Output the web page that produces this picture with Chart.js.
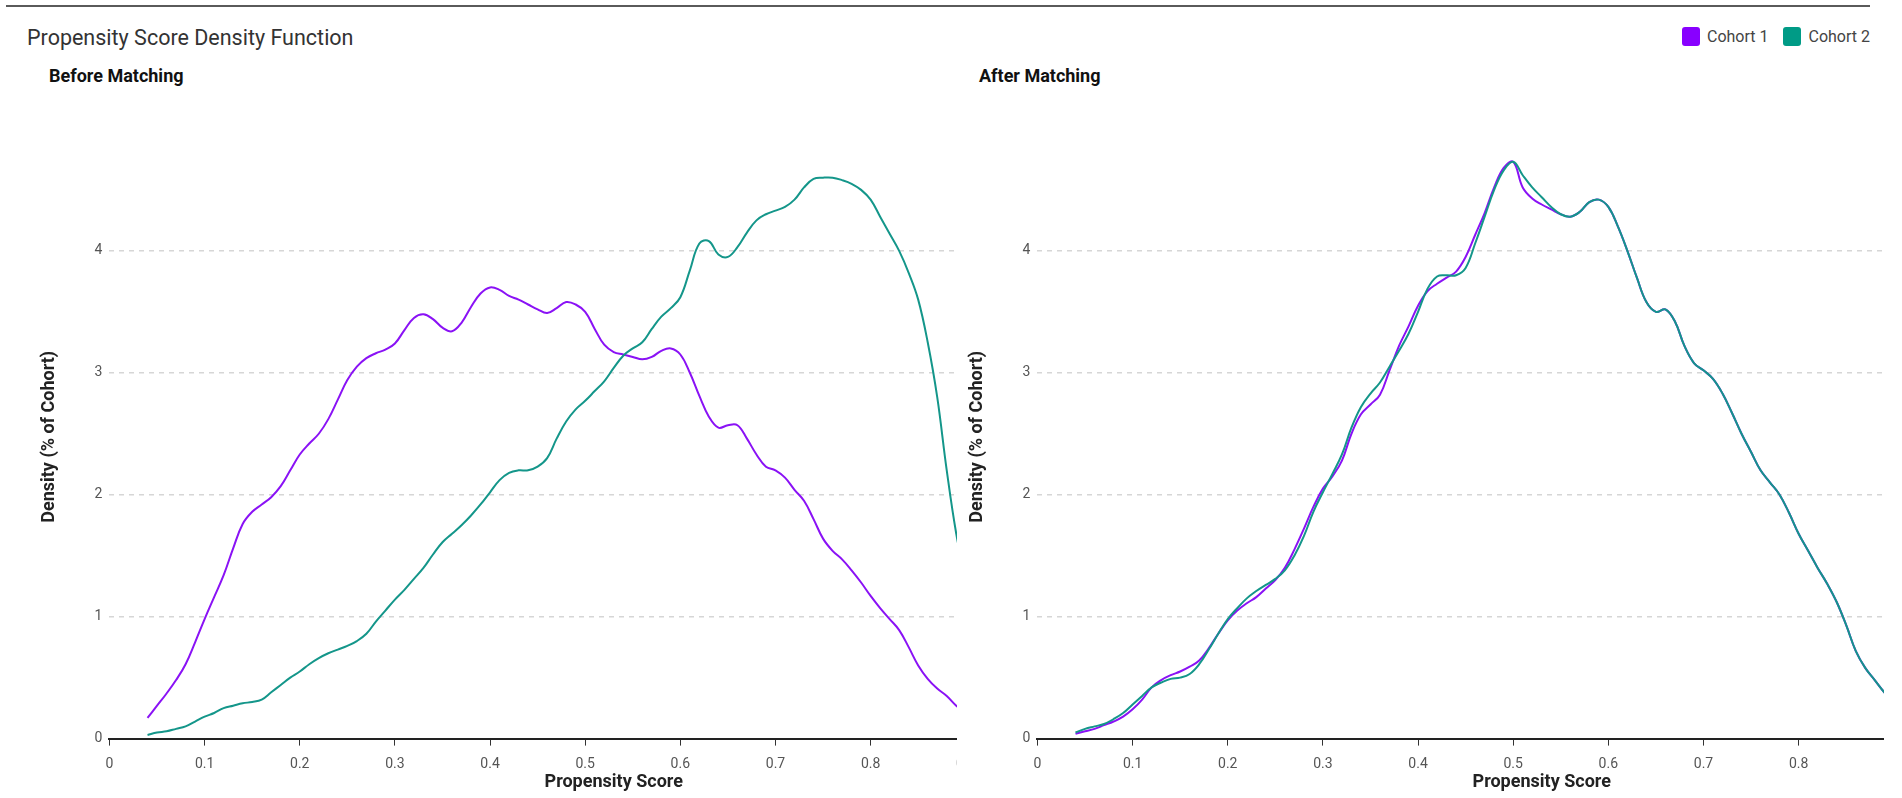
<!DOCTYPE html>
<html>
<head>
<meta charset="utf-8">
<script src="https://cdn.jsdelivr.net/npm/chart.js@4.4.1/dist/chart.umd.min.js"></script>
<style>
  body { margin: 0; background: #fff; font-family: Roboto, "Noto Sans", sans-serif; }
  #page { position: relative; width: 1902px; height: 798px; overflow: hidden; }
  .topline { position: absolute; left: 6px; top: 5px; width: 1864px; height: 2px; background: #5a5a5a; }
  .title { position: absolute; left: 27px; top: 25px; font-size: 21.5px; color: #333; }
  .sub { position: absolute; top: 65px; font-size: 18px; font-weight: bold; color: #111; }
  .legend { position: absolute; top: 27px; left: 1682px; display: flex; align-items: center; font-size: 16px; color: #444; }
  .legend span.box { display: inline-block; width: 18px; height: 19px; border-radius: 3px; margin-right: 7px; }
  .legend span.lbl { margin-right: 15px; }
  .panel { position: absolute; top: 0; height: 798px; overflow: hidden; }
  .panel canvas { position: absolute; top: 0; }
</style>
</head>
<body>
<div id="page">
  <div class="topline"></div>
  <div class="title">Propensity Score Density Function</div>
  <div class="sub" style="left:49px">Before Matching</div>
  <div class="sub" style="left:979px">After Matching</div>
  <div class="legend">
    <span class="box" style="background:#8800ff"></span><span class="lbl">Cohort 1</span>
    <span class="box" style="background:#009b86"></span><span class="lbl">Cohort 2</span>
  </div>
  <div class="panel" style="left:0; width:957px;"><canvas id="before" width="1128" height="798" style="left:0"></canvas></div>
  <div class="panel" style="left:962px; width:922px;"><canvas id="after" width="1128" height="798" style="left:-34px"></canvas></div>
</div>
<script>
// Propensity score grid (0.04 .. 0.90)
const scores = [0.04, 0.05, 0.06, 0.07, 0.08, 0.09, 0.10, 0.11, 0.12, 0.13, 0.14, 0.15, 0.16, 0.17, 0.18, 0.19,
  0.20, 0.21, 0.22, 0.23, 0.24, 0.25, 0.26, 0.27, 0.28, 0.29, 0.30, 0.31, 0.32, 0.33, 0.34, 0.35, 0.36, 0.37, 0.38, 0.39,
  0.40, 0.41, 0.42, 0.43, 0.44, 0.45, 0.46, 0.47, 0.48, 0.49, 0.50, 0.51, 0.52, 0.53, 0.54, 0.55, 0.56, 0.57, 0.58, 0.59,
  0.60, 0.61, 0.62, 0.63, 0.64, 0.65, 0.66, 0.67, 0.68, 0.69, 0.70, 0.71, 0.72, 0.73, 0.74, 0.75, 0.76, 0.77, 0.78, 0.79,
  0.80, 0.81, 0.82, 0.83, 0.84, 0.85, 0.86, 0.87, 0.88, 0.89, 0.90];

// Before matching
const beforeCohort1 = [0.17, 0.27, 0.37, 0.48, 0.61, 0.79, 0.98, 1.16, 1.34, 1.56, 1.76, 1.86, 1.92, 1.98, 2.07, 2.20,
  2.33, 2.42, 2.50, 2.62, 2.78, 2.94, 3.05, 3.12, 3.16, 3.19, 3.24, 3.35, 3.45, 3.48, 3.44, 3.37, 3.34, 3.41, 3.54, 3.65,
  3.70, 3.68, 3.63, 3.60, 3.56, 3.52, 3.49, 3.53, 3.58, 3.56, 3.50, 3.36, 3.23, 3.17, 3.15, 3.13, 3.11, 3.13, 3.18, 3.20,
  3.15, 3.00, 2.81, 2.64, 2.55, 2.57, 2.57, 2.46, 2.33, 2.23, 2.20, 2.14, 2.04, 1.95, 1.80, 1.64, 1.54, 1.47, 1.38, 1.28,
  1.17, 1.07, 0.98, 0.89, 0.75, 0.60, 0.49, 0.41, 0.35, 0.27, 0.21];
const beforeCohort2 = [0.03, 0.05, 0.06, 0.08, 0.10, 0.14, 0.18, 0.21, 0.25, 0.27, 0.29, 0.30, 0.32, 0.38, 0.44, 0.50,
  0.55, 0.61, 0.66, 0.70, 0.73, 0.76, 0.80, 0.86, 0.96, 1.05, 1.14, 1.22, 1.31, 1.40, 1.51, 1.61, 1.68, 1.75, 1.83, 1.92,
  2.02, 2.12, 2.18, 2.20, 2.20, 2.23, 2.30, 2.46, 2.60, 2.70, 2.77, 2.85, 2.93, 3.04, 3.14, 3.20, 3.25, 3.36, 3.46, 3.53,
  3.62, 3.84, 4.06, 4.08, 3.97, 3.95, 4.03, 4.15, 4.25, 4.30, 4.33, 4.36, 4.42, 4.52, 4.59, 4.60, 4.60, 4.58, 4.55, 4.50,
  4.42, 4.28, 4.14, 4.00, 3.82, 3.60, 3.25, 2.80, 2.20, 1.68, 1.30];

// After matching
const afterCohort1 = [0.04, 0.06, 0.08, 0.11, 0.14, 0.18, 0.24, 0.32, 0.42, 0.48, 0.52, 0.55, 0.59, 0.64, 0.74, 0.86,
  0.97, 1.05, 1.11, 1.16, 1.23, 1.30, 1.40, 1.55, 1.72, 1.90, 2.05, 2.15, 2.28, 2.50, 2.66, 2.74, 2.82, 3.02, 3.22, 3.38,
  3.55, 3.67, 3.73, 3.78, 3.83, 3.95, 4.13, 4.31, 4.52, 4.68, 4.73, 4.52, 4.43, 4.38, 4.34, 4.30, 4.28, 4.32, 4.40, 4.42,
  4.36, 4.20, 4.00, 3.78, 3.58, 3.50, 3.52, 3.42, 3.22, 3.08, 3.02, 2.95, 2.83, 2.67, 2.50, 2.35, 2.20, 2.10, 2.00, 1.85,
  1.68, 1.54, 1.40, 1.27, 1.12, 0.93, 0.72, 0.58, 0.48, 0.38, 0.30];
const afterCohort2 = [0.05, 0.08, 0.10, 0.12, 0.16, 0.21, 0.28, 0.35, 0.42, 0.46, 0.49, 0.50, 0.53, 0.61, 0.73, 0.86,
  0.98, 1.07, 1.15, 1.21, 1.26, 1.31, 1.38, 1.50, 1.66, 1.86, 2.02, 2.17, 2.33, 2.55, 2.72, 2.83, 2.92, 3.05, 3.18, 3.32,
  3.50, 3.69, 3.79, 3.80, 3.80, 3.86, 4.06, 4.28, 4.50, 4.66, 4.73, 4.62, 4.52, 4.44, 4.36, 4.30, 4.28, 4.32, 4.40, 4.42,
  4.36, 4.20, 4.00, 3.78, 3.58, 3.50, 3.52, 3.42, 3.22, 3.08, 3.02, 2.95, 2.83, 2.67, 2.50, 2.35, 2.20, 2.10, 2.00, 1.85,
  1.68, 1.54, 1.40, 1.27, 1.12, 0.93, 0.72, 0.58, 0.48, 0.38, 0.30];

const cohortNames = ["Cohort 1", "Cohort 2"];
const cohortColors = ["#8a12f5", "#14968a"];

function toPoints(values) {
    return values.map((v, i) => ({ x: scores[i], y: v }));
}

function makeChart(id, series1, series2) {
    const ctx = document.getElementById(id).getContext("2d");
    return new Chart(ctx, {
        type: 'line',
        data: {
            datasets: [series1, series2].map((s, i) => ({
                label: cohortNames[i],
                data: toPoints(s),
                borderColor: cohortColors[i],
                borderWidth: 2,
                pointRadius: 0,
                tension: 0.4,
                fill: false,
                order: 1 - i   // Cohort 2 drawn on top
            }))
        },
        options: {
            responsive: false,
            animation: false,
            devicePixelRatio: 1,
            layout: { padding: { left: 35, top: 135, right: 10, bottom: 0 } },
            plugins: { legend: { display: false }, tooltip: { enabled: false } },
            scales: {
                x: {
                    type: 'linear',
                    min: 0,
                    max: 1.06,
                    afterBuildTicks: scale => {
                        scale.ticks = scale.ticks.filter(t => Math.abs(t.value * 10 - Math.round(t.value * 10)) < 1e-6);
                    },
                    ticks: {
                        stepSize: 0.1,
                        padding: 10,
                        color: '#555',
                        font: { family: 'Roboto', size: 14 },
                        callback: v => String(+v.toFixed(1))
                    },
                    grid: { drawOnChartArea: false, drawTicks: true, tickLength: 7, color: '#333' },
                    border: { display: true, color: '#222', width: 2 },
                    title: {
                        display: true,
                        text: 'Propensity Score',
                        color: '#222',
                        font: { family: 'Roboto', size: 18, weight: 'bold' },
                        padding: { top: -11, bottom: 5 }
                    }
                },
                y: {
                    min: 0,
                    max: 4.95,
                    afterBuildTicks: scale => {
                        scale.ticks = scale.ticks.filter(t => Number.isInteger(t.value));
                    },
                    ticks: {
                        stepSize: 1,
                        padding: 7,
                        color: '#555',
                        font: { family: 'Roboto', size: 14 }
                    },
                    grid: {
                        drawTicks: false,
                        lineWidth: 1.5,
                        color: c => (c.tick && c.tick.value === 0) ? 'rgba(0,0,0,0)' : '#d6d6d6'
                    },
                    border: { display: false, dash: [5, 5] },
                    title: {
                        display: true,
                        text: 'Density (% of Cohort)',
                        color: '#222',
                        font: { family: 'Roboto', size: 18, weight: 'bold' },
                        padding: { top: 4, bottom: 27 }
                    }
                }
            }
        }
    });
}

makeChart("before", beforeCohort1, beforeCohort2);
makeChart("after", afterCohort1, afterCohort2);
</script>
</body>
</html>
